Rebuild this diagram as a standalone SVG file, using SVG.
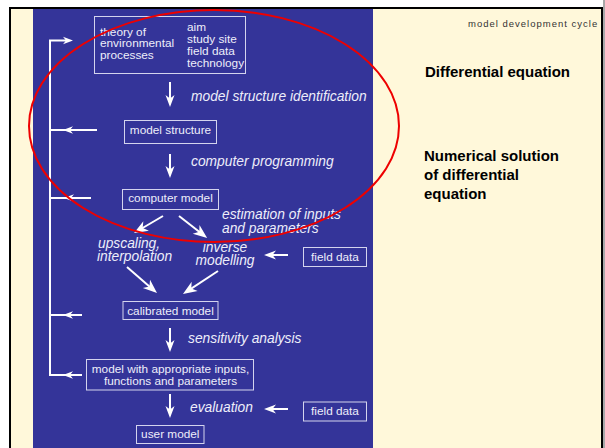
<svg xmlns="http://www.w3.org/2000/svg" width="605" height="448" viewBox="0 0 605 448">
<style>
.bx{fill:none;stroke:#d4d4ee;stroke-width:1}
.bt{font-family:"Liberation Sans",Arial,sans-serif;font-size:11.8px;fill:#eeeefa}
.it{font-family:"Liberation Sans",Arial,sans-serif;font-size:13.8px;font-style:italic;fill:#eeeefa}
.ln{stroke:#fff;stroke-width:2;fill:none}
.rt{font-family:"Liberation Sans",Arial,sans-serif;font-size:15px;font-weight:bold;fill:#000}
</style>
<defs>
<marker id="ah" viewBox="-13 -6 14 12" refX="-4" refY="0" markerWidth="14" markerHeight="12" markerUnits="userSpaceOnUse" orient="auto">
<path d="M0,0 L-12,-4.5 L-8.5,0 L-12,4.5 Z" fill="#fff"/>
</marker>
<marker id="ah2" viewBox="-15 -7 16 14" refX="-4" refY="0" markerWidth="16" markerHeight="14" markerUnits="userSpaceOnUse" orient="auto">
<path d="M0,0 L-14,-5.5 L-10,0 L-14,5.5 Z" fill="#fff"/>
</marker>
<path id="sh" d="M0,0 L-10,-3.8 L-7,0 L-10,3.8 Z" fill="#fff"/>
</defs>
<rect x="0" y="0" width="605" height="448" fill="#fff"/>
<rect x="603" y="0" width="2" height="448" fill="#a8a8a8"/>
<rect x="10" y="8" width="592" height="460" fill="#fff8da" stroke="#000" stroke-width="2"/>
<rect x="33" y="9" width="340" height="439" fill="#343499"/>

<text x="468" y="27" font-family="Liberation Sans,Arial,sans-serif" font-size="9.5" letter-spacing="1" fill="#333">model development cycle</text>
<text class="rt" x="425" y="77">Differential equation</text>
<text class="rt" x="424" y="161">Numerical solution</text>
<text class="rt" x="424" y="180">of differential</text>
<text class="rt" x="424" y="199">equation</text>

<g id="connectors">
<line class="ln" x1="170" y1="82" x2="170" y2="103" marker-end="url(#ah)"/>
<line class="ln" x1="170" y1="154" x2="170" y2="174" marker-end="url(#ah)"/>
<line class="ln" x1="170" y1="328" x2="170" y2="348" marker-end="url(#ah)"/>
<line class="ln" x1="170" y1="394" x2="170" y2="414" marker-end="url(#ah)"/>
<line class="ln" x1="163" y1="216" x2="137.5" y2="231" marker-end="url(#ah2)"/>
<line class="ln" x1="179" y1="216" x2="204" y2="235.5" marker-end="url(#ah2)"/>
<line class="ln" x1="127" y1="267" x2="154" y2="290.4" marker-end="url(#ah2)"/>
<line class="ln" x1="218" y1="271" x2="186.3" y2="291.8" marker-end="url(#ah2)"/>
<line class="ln" x1="288" y1="255" x2="268" y2="255" marker-end="url(#ah)"/>
<line class="ln" x1="288" y1="409" x2="268" y2="409" marker-end="url(#ah)"/>
<line class="ln" x1="50" y1="40.5" x2="50" y2="375"/>
<line class="ln" x1="49" y1="40.5" x2="66" y2="40.5"/>
<use href="#sh" transform="translate(73,40.5)"/>
<line class="ln" x1="97" y1="130" x2="50" y2="130"/>
<use href="#sh" transform="translate(63,130) rotate(180)"/>
<line class="ln" x1="91" y1="198" x2="50" y2="198"/>
<use href="#sh" transform="translate(64,198) rotate(180)"/>
<line class="ln" x1="82" y1="315" x2="50" y2="315"/>
<use href="#sh" transform="translate(63,315) rotate(180)"/>
<line class="ln" x1="82" y1="375" x2="49" y2="375"/>
<use href="#sh" transform="translate(63,375) rotate(180)"/>
</g>

<g id="n-theory">
<rect class="bx" x="94.5" y="16.5" width="151" height="57"/>
<text class="bt" x="100" y="35.5">theory of</text>
<text class="bt" x="100" y="47">environmental</text>
<text class="bt" x="100" y="58.5">processes</text>
<text class="bt" x="187" y="31">aim</text>
<text class="bt" x="187" y="43">study site</text>
<text class="bt" x="187" y="55">field data</text>
<text class="bt" x="187" y="67">technology</text>
</g>
<g id="n-modelstructure">
<rect class="bx" x="124.5" y="120.5" width="92" height="23"/>
<text class="bt" x="170.5" y="134" text-anchor="middle">model structure</text>
</g>
<g id="n-computermodel">
<rect class="bx" x="122.5" y="189.5" width="96" height="20"/>
<text class="bt" x="170.5" y="202" text-anchor="middle">computer model</text>
</g>
<g id="n-fielddata1">
<rect class="bx" x="303.5" y="247.5" width="63" height="19"/>
<text class="bt" x="335" y="260.5" text-anchor="middle">field data</text>
</g>
<g id="n-calibrated">
<rect class="bx" x="123" y="301.5" width="95" height="18"/>
<text class="bt" x="170.5" y="314.5" text-anchor="middle">calibrated model</text>
</g>
<g id="n-modelwith">
<rect class="bx" x="86.5" y="359.5" width="167" height="30.5"/>
<text class="bt" x="170.5" y="373.3" text-anchor="middle">model with appropriate inputs,</text>
<text class="bt" x="170.5" y="384.5" text-anchor="middle">functions and parameters</text>
</g>
<g id="n-fielddata2">
<rect class="bx" x="303.5" y="402" width="63" height="19"/>
<text class="bt" x="335" y="414.5" text-anchor="middle">field data</text>
</g>
<g id="n-usermodel">
<rect class="bx" x="136.5" y="425.5" width="67.5" height="18"/>
<text class="bt" x="170.3" y="438" text-anchor="middle">user model</text>
</g>

<g id="labels">
<text class="it" x="191" y="101">model structure identification</text>
<text class="it" x="191" y="166">computer programming</text>
<text class="it" x="222" y="219">estimation of inputs</text>
<text class="it" x="222" y="232.5">and parameters</text>
<text class="it" x="98" y="247.5">upscaling,</text>
<text class="it" x="97" y="261">interpolation</text>
<text class="it" x="225" y="251.5" text-anchor="middle">inverse</text>
<text class="it" x="225" y="265" text-anchor="middle">modelling</text>
<text class="it" x="188" y="342.5">sensitivity analysis</text>
<text class="it" x="190" y="412">evaluation</text>
</g>

<ellipse cx="214" cy="126" rx="185" ry="116" fill="none" stroke="#ee0000" stroke-width="2"/>
</svg>
